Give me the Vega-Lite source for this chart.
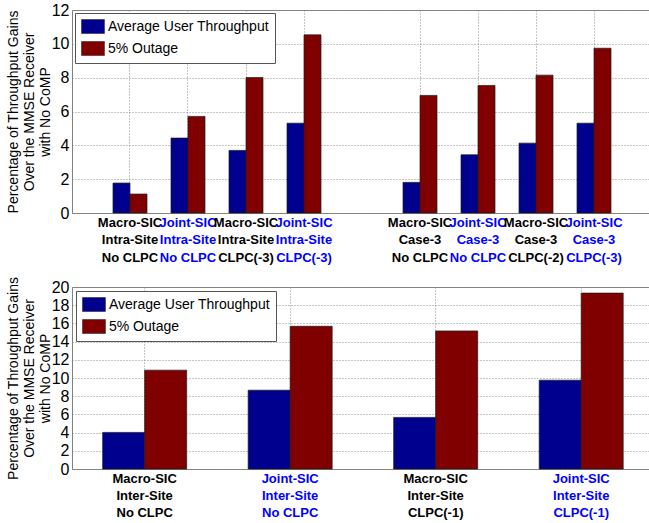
{
  "$schema": "https://vega.github.io/schema/vega-lite/v6.json",
  "padding": {"left": 5, "top": 1, "right": 0, "bottom": 0},
  "spacing": 74,
  "bounds": "flush",
  "config": {
    "view": {"stroke": "#808080", "strokeWidth": 1},
    "font": "Liberation Sans",
    "axis": {"labelFont": "Liberation Sans", "titleFont": "Liberation Sans", "labelColor": "black", "titleColor": "black"}
  },
  "datasets": {
    "top": [
      {"group": "Macro-SIC|Intra-Site|No CLPC", "series": "Average User Throughput", "value": 1.77},
      {"group": "Macro-SIC|Intra-Site|No CLPC", "series": "5% Outage", "value": 1.12},
      {"group": "Joint-SIC|Intra-Site|No CLPC", "series": "Average User Throughput", "value": 4.43},
      {"group": "Joint-SIC|Intra-Site|No CLPC", "series": "5% Outage", "value": 5.71},
      {"group": "Macro-SIC|Intra-Site|CLPC(-3)", "series": "Average User Throughput", "value": 3.70},
      {"group": "Macro-SIC|Intra-Site|CLPC(-3)", "series": "5% Outage", "value": 8.01},
      {"group": "Joint-SIC|Intra-Site|CLPC(-3)", "series": "Average User Throughput", "value": 5.31},
      {"group": "Joint-SIC|Intra-Site|CLPC(-3)", "series": "5% Outage", "value": 10.53},
      {"group": "Macro-SIC|Case-3|No CLPC", "series": "Average User Throughput", "value": 1.81},
      {"group": "Macro-SIC|Case-3|No CLPC", "series": "5% Outage", "value": 6.95},
      {"group": "Joint-SIC|Case-3|No CLPC", "series": "Average User Throughput", "value": 3.44},
      {"group": "Joint-SIC|Case-3|No CLPC", "series": "5% Outage", "value": 7.54},
      {"group": "Macro-SIC|Case-3|CLPC(-2)", "series": "Average User Throughput", "value": 4.13},
      {"group": "Macro-SIC|Case-3|CLPC(-2)", "series": "5% Outage", "value": 8.15},
      {"group": "Joint-SIC|Case-3|CLPC(-3)", "series": "Average User Throughput", "value": 5.31},
      {"group": "Joint-SIC|Case-3|CLPC(-3)", "series": "5% Outage", "value": 9.74}
    ],
    "bottom": [
      {"group": "Macro-SIC|Inter-Site|No CLPC", "series": "Average User Throughput", "value": 4.02},
      {"group": "Macro-SIC|Inter-Site|No CLPC", "series": "5% Outage", "value": 10.86},
      {"group": "Joint-SIC|Inter-Site|No CLPC", "series": "Average User Throughput", "value": 8.66},
      {"group": "Joint-SIC|Inter-Site|No CLPC", "series": "5% Outage", "value": 15.68},
      {"group": "Macro-SIC|Inter-Site|CLPC(-1)", "series": "Average User Throughput", "value": 5.67},
      {"group": "Macro-SIC|Inter-Site|CLPC(-1)", "series": "5% Outage", "value": 15.17},
      {"group": "Joint-SIC|Inter-Site|CLPC(-1)", "series": "Average User Throughput", "value": 9.76},
      {"group": "Joint-SIC|Inter-Site|CLPC(-1)", "series": "5% Outage", "value": 19.33}
    ]
  },
  "resolve": {"legend": {"color": "independent"}, "scale": {"x": "independent", "xOffset": "independent", "y": "independent"}},
  "vconcat": [
    {
      "width": 577,
      "height": 203,
      "data": {"name": "top"},
      "mark": {"type": "bar", "stroke": "#1a1a1a", "strokeWidth": 0.7},
      "encoding": {
        "x": {
          "field": "group", "type": "nominal",
          "scale": {
            "domain": ["Macro-SIC|Intra-Site|No CLPC", "Joint-SIC|Intra-Site|No CLPC", "Macro-SIC|Intra-Site|CLPC(-3)", "Joint-SIC|Intra-Site|CLPC(-3)", "gap", "Macro-SIC|Case-3|No CLPC", "Joint-SIC|Case-3|No CLPC", "Macro-SIC|Case-3|CLPC(-2)", "Joint-SIC|Case-3|CLPC(-3)"],
            "paddingInner": 0.4138, "paddingOuter": 0.681, "align": 0.519
          },
          "axis": {
            "title": null,
            "values": ["Macro-SIC|Intra-Site|No CLPC", "Joint-SIC|Intra-Site|No CLPC", "Macro-SIC|Intra-Site|CLPC(-3)", "Joint-SIC|Intra-Site|CLPC(-3)", "Macro-SIC|Case-3|No CLPC", "Joint-SIC|Case-3|No CLPC", "Macro-SIC|Case-3|CLPC(-2)", "Joint-SIC|Case-3|CLPC(-3)"],
            "labelExpr": "split(datum.value, '|')",
            "labelAngle": 0, "labelOverlap": false, "labelBound": false,
            "labelFontWeight": "bold", "labelFontSize": 13, "labelLineHeight": 17.5,
            "labelPadding": 3, "ticks": false, "domain": false,
            "bandPosition": 0.5,
            "grid": true, "gridDash": [1, 2], "gridColor": "#8c8c8c", "gridWidth": 1,
            "labelColor": {"condition": {"test": "indexof(datum.value, 'Joint') === 0", "value": "#0000ff"}, "value": "black"}
          }
        },
        "xOffset": {"field": "series", "type": "nominal", "sort": ["Average User Throughput", "5% Outage"], "scale": {"paddingInner": 0, "paddingOuter": 0}},
        "y": {
          "field": "value", "type": "quantitative",
          "scale": {"domain": [0, 12], "nice": false},
          "axis": {
            "title": ["Percentage of Throughput Gains", "Over the MMSE Receiver", "with No CoMP"],
            "titleFontSize": 14, "titleFontWeight": "normal", "titleLineHeight": 16, "titlePadding": -1,
            "values": [0, 2, 4, 6, 8, 10, 12],
            "labelFontSize": 16, "labelPadding": 3, "ticks": false, "domain": false,
            "grid": true, "gridDash": [1, 2], "gridColor": "#8c8c8c", "gridWidth": 1
          }
        },
        "color": {
          "field": "series", "type": "nominal",
          "scale": {"domain": ["Average User Throughput", "5% Outage"], "range": ["#00008f", "#800000"]},
          "legend": {
            "orient": "none", "legendX": 3, "legendY": 3, "title": null,
            "fillColor": "white", "strokeColor": "#555555", "padding": 6,
            "symbolType": "M-1,-1H2.28V1H-1Z", "symbolSize": 196,
            "symbolStrokeColor": "#1a1a1a", "symbolStrokeWidth": 0.5,
            "labelFont": "Liberation Sans", "labelFontSize": 14, "labelColor": "black",
            "labelOffset": 12, "rowPadding": 5, "labelLimit": 300
          }
        }
      }
    },
    {
      "width": 577,
      "height": 182,
      "data": {"name": "bottom"},
      "mark": {"type": "bar", "stroke": "#1a1a1a", "strokeWidth": 0.7},
      "encoding": {
        "x": {
          "field": "group", "type": "nominal",
          "scale": {
            "domain": ["Macro-SIC|Inter-Site|No CLPC", "Joint-SIC|Inter-Site|No CLPC", "Macro-SIC|Inter-Site|CLPC(-1)", "Joint-SIC|Inter-Site|CLPC(-1)"],
            "paddingInner": 0.4227, "paddingOuter": 0.194, "align": 0.543
          },
          "axis": {
            "title": null,
            "labelExpr": "split(datum.value, '|')",
            "labelAngle": 0, "labelOverlap": false, "labelBound": false,
            "labelFontWeight": "bold", "labelFontSize": 13, "labelLineHeight": 17,
            "labelPadding": 3, "ticks": false, "domain": false,
            "bandPosition": 0.5,
            "grid": true, "gridDash": [1, 2], "gridColor": "#8c8c8c", "gridWidth": 1,
            "labelColor": {"condition": {"test": "indexof(datum.value, 'Joint') === 0", "value": "#0000ff"}, "value": "black"}
          }
        },
        "xOffset": {"field": "series", "type": "nominal", "sort": ["Average User Throughput", "5% Outage"], "scale": {"paddingInner": 0, "paddingOuter": 0}},
        "y": {
          "field": "value", "type": "quantitative",
          "scale": {"domain": [0, 20], "nice": false},
          "axis": {
            "title": ["Percentage of Throughput Gains", "Over the MMSE Receiver", "with No CoMP"],
            "titleFontSize": 14, "titleFontWeight": "normal", "titleLineHeight": 16, "titlePadding": -1,
            "values": [0, 2, 4, 6, 8, 10, 12, 14, 16, 18, 20],
            "labelFontSize": 16, "labelPadding": 3, "ticks": false, "domain": false,
            "grid": true, "gridDash": [1, 2], "gridColor": "#8c8c8c", "gridWidth": 1
          }
        },
        "color": {
          "field": "series", "type": "nominal",
          "scale": {"domain": ["Average User Throughput", "5% Outage"], "range": ["#00008f", "#800000"]},
          "legend": {
            "orient": "none", "legendX": 4, "legendY": 4, "title": null,
            "fillColor": "white", "strokeColor": "#555555", "padding": 6,
            "symbolType": "M-1,-1H2.28V1H-1Z", "symbolSize": 196,
            "symbolStrokeColor": "#1a1a1a", "symbolStrokeWidth": 0.5,
            "labelFont": "Liberation Sans", "labelFontSize": 14, "labelColor": "black",
            "labelOffset": 12, "rowPadding": 5, "labelLimit": 300
          }
        }
      }
    }
  ]
}
